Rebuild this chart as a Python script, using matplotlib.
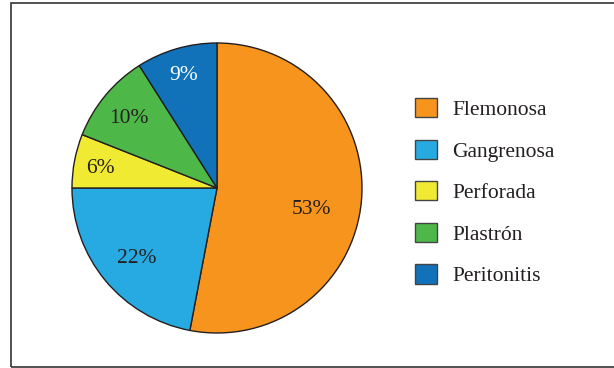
import matplotlib
matplotlib.use("Agg")
import matplotlib.pyplot as plt
import matplotlib.transforms as mtransforms
from matplotlib.patches import Rectangle, Patch

categories = ["Flemonosa", "Gangrenosa", "Perforada", "Plastrón", "Peritonitis"]
values = [53, 22, 6, 10, 9]

# styling
colors = ["#F7941D", "#27AAE1", "#F1EA33", "#4DB848", "#1172BA"]
label_colors = ["#231F20", "#231F20", "#231F20", "#231F20", "#FFFFFF"]
label_dist = [0.68, 0.72, 0.82, 0.79, 0.82]
label_nudge_px = [(-4, -12), (0, -4), (0, -3), (0, -4), (0, -2)]

plt.rcParams["font.family"] = ["Liberation Serif", "DejaVu Serif"]

W, H = 614, 368
fig = plt.figure(figsize=(W / 100, H / 100), dpi=100)

# frame
fig.patches.append(Rectangle((11 / W, 1.5 / H), 1.2, (365 - 1.5) / H,
                             transform=fig.transFigure, fill=False,
                             edgecolor="#333333", linewidth=1.2))

cx, cy, r = 217, 188, 145
lim = 1.03
size = 2 * r * lim
ax = fig.add_axes([(cx - r * lim) / W, (H - cy - r * lim) / H, size / W, size / H])
wedges, texts, autotexts = ax.pie(values, colors=colors, startangle=90, counterclock=False,
                                  autopct=lambda p: f"{p:.0f}%", pctdistance=1.0,
                                  wedgeprops=dict(edgecolor="#231F20", linewidth=1.0),
                                  textprops=dict(fontsize=15.5))
for t, d, c, (nx, ny) in zip(autotexts, label_dist, label_colors, label_nudge_px):
    x, y = t.get_position()
    t.set_position((x * d, y * d))
    t.set_color(c)
    shift = mtransforms.ScaledTranslation(nx / 100, ny / 100, fig.dpi_scale_trans)
    t.set_transform(t.get_transform() + shift)
ax.set_xlim(-lim, lim)
ax.set_ylim(-lim, lim)
ax.axis("off")

handles = [Patch(facecolor=c, edgecolor="#444444", linewidth=1.0) for c in colors]
fig.legend(handles, categories, loc="upper left",
           bbox_to_anchor=(415 / W, (H - 98) / H), frameon=False,
           fontsize=15.5, handlelength=1.0, handleheight=1.0,
           handletextpad=0.72, labelspacing=0.91, borderpad=0, borderaxespad=0,
           labelcolor="#231F20")

fig.savefig("out.png", dpi=100)
